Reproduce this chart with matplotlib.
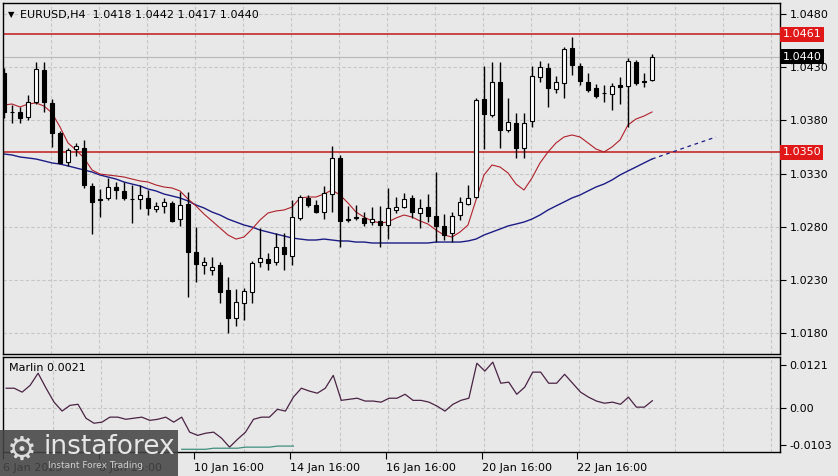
import matplotlib.pyplot as plt
import numpy as np
from matplotlib.transforms import blended_transform_factory
from matplotlib.patches import Rectangle

# EURUSD H4 candles
opens = [1.04246, 1.03879, 1.03880, 1.03832, 1.03973, 1.04274, 1.03964, 1.03682, 1.03409, 1.03531,
         1.03541, 1.03184, 1.03061, 1.03071, 1.03174, 1.03137, 1.03061, 1.03061, 1.03071, 1.02967,
         1.02996, 1.03024, 1.02873, 1.03014, 1.02563, 1.02441, 1.02394, 1.02441, 1.02206, 1.01943,
         1.02084, 1.02187, 1.02469, 1.02497, 1.02469, 1.02610, 1.02526, 1.02883, 1.03071, 1.03005,
         1.02939, 1.03108, 1.03447, 1.02873, 1.02892, 1.02883, 1.02845, 1.02855, 1.02817, 1.02958,
         1.02986, 1.03071, 1.02930, 1.02986, 1.02902, 1.02808, 1.02742, 1.02911, 1.03014, 1.03080,
         1.04001, 1.03851, 1.04161, 1.03710, 1.03776, 1.03541, 1.03794, 1.04208, 1.04293, 1.04095,
         1.04152, 1.04480, 1.04311, 1.04161, 1.04105, 1.04058, 1.04048, 1.04133, 1.04123, 1.04349,
         1.04170, 1.04180]
highs = [1.04293, 1.03945, 1.03926, 1.04039, 1.04349, 1.04349, 1.04001, 1.03700, 1.03541, 1.03588,
         1.03616, 1.03212, 1.03155, 1.03259, 1.03221, 1.03221, 1.03193, 1.03193, 1.03146, 1.03033,
         1.03071, 1.03043, 1.03127, 1.03127, 1.02798, 1.02516, 1.02516, 1.02469, 1.02328, 1.02216,
         1.02225, 1.02479, 1.02789, 1.02554, 1.02742, 1.02742, 1.03052, 1.03099, 1.03099, 1.03052,
         1.03184, 1.03560, 1.03475, 1.02996, 1.03005, 1.02939, 1.02986, 1.02996, 1.03165, 1.03080,
         1.03118, 1.03099, 1.03061, 1.03108, 1.03315, 1.02920, 1.02939, 1.03080, 1.03193, 1.04011,
         1.04311, 1.04349, 1.04349, 1.04011, 1.03870, 1.03870, 1.04311, 1.04358, 1.04340, 1.04217,
         1.04490, 1.04584, 1.04340, 1.04246, 1.04142, 1.04133, 1.04152, 1.04208, 1.04387, 1.04368,
         1.04246, 1.04420]
lows = [1.03823, 1.03776, 1.03776, 1.03804, 1.03954, 1.03879, 1.03550, 1.03390, 1.03372, 1.03466,
        1.03165, 1.02732, 1.02892, 1.03052, 1.03061, 1.03052, 1.02836, 1.02967, 1.02911, 1.02939,
        1.02930, 1.02845, 1.02808, 1.02140, 1.02281, 1.02357, 1.02347, 1.02084, 1.01802, 1.01868,
        1.01924, 1.02084, 1.02422, 1.02394, 1.02441, 1.02394, 1.02441, 1.02864, 1.02986, 1.02930,
        1.02873, 1.02939, 1.02610, 1.02845, 1.02864, 1.02808, 1.02817, 1.02610, 1.02685, 1.02930,
        1.02977, 1.02883, 1.02789, 1.02845, 1.02657, 1.02676, 1.02657, 1.02864, 1.03005, 1.03071,
        1.03531, 1.03832, 1.03541, 1.03691, 1.03447, 1.03447, 1.03738, 1.04161, 1.03926, 1.04058,
        1.04011, 1.04227, 1.04133, 1.04067, 1.04011, 1.03973, 1.03898, 1.03954, 1.03738, 1.04133,
        1.04114, 1.04170]
closes = [1.03879, 1.03880, 1.03823, 1.03973, 1.04283, 1.03973, 1.03682, 1.03400, 1.03522, 1.03560,
          1.03193, 1.03033, 1.03052, 1.03174, 1.03146, 1.03071, 1.03058, 1.03099, 1.02977, 1.02996,
          1.03033, 1.02855, 1.03005, 1.02563, 1.02451, 1.02469, 1.02422, 1.02187, 1.01943, 1.02093,
          1.02197, 1.02460, 1.02507, 1.02460, 1.02610, 1.02544, 1.02892, 1.03080, 1.03005, 1.02939,
          1.03118, 1.03447, 1.02855, 1.02864, 1.02883, 1.02836, 1.02873, 1.02817, 1.02977, 1.02986,
          1.03061, 1.02939, 1.02977, 1.02902, 1.02808, 1.02723, 1.02902, 1.03033, 1.03071, 1.03992,
          1.03860, 1.04161, 1.03710, 1.03785, 1.03541, 1.03776, 1.04217, 1.04302, 1.04105, 1.04161,
          1.04471, 1.04321, 1.04170, 1.04086, 1.04029, 1.04054, 1.04123, 1.04114, 1.04358, 1.04152,
          1.04161, 1.04400]

ma_fast = [1.03945, 1.03954, 1.03926, 1.03954, 1.03964, 1.03935, 1.03870, 1.03738, 1.03588, 1.03522,
           1.03447, 1.03334, 1.03296, 1.03287, 1.03278, 1.03268, 1.03249, 1.03231, 1.03221, 1.03193,
           1.03174, 1.03165, 1.03137, 1.03061, 1.02996, 1.02920, 1.02855, 1.02789, 1.02723, 1.02685,
           1.02704, 1.02779, 1.02864, 1.02930, 1.02949, 1.02958, 1.02986, 1.03071, 1.03080, 1.03080,
           1.03108, 1.03146, 1.03099, 1.03024, 1.02939, 1.02892, 1.02855, 1.02836, 1.02845, 1.02883,
           1.02911, 1.02892, 1.02855, 1.02826, 1.02770, 1.02723, 1.02704, 1.02751, 1.02817, 1.03052,
           1.03287, 1.03381, 1.03362, 1.03306, 1.03202, 1.03146, 1.03259, 1.03400, 1.03503, 1.03588,
           1.03644, 1.03663, 1.03644, 1.03588, 1.03531, 1.03503, 1.03550, 1.03616, 1.03757, 1.03813,
           1.03841, 1.03879]
ma_slow = [1.03484, 1.03475, 1.03456, 1.03447, 1.03437, 1.03419, 1.03400, 1.03390, 1.03372, 1.03353,
           1.03334, 1.03315, 1.03287, 1.03268, 1.03249, 1.03221, 1.03202, 1.03184, 1.03155, 1.03137,
           1.03108, 1.03090, 1.03071, 1.03043, 1.03005, 1.02977, 1.02939, 1.02911, 1.02873, 1.02845,
           1.02817, 1.02798, 1.02770, 1.02751, 1.02732, 1.02714, 1.02695, 1.02685, 1.02676, 1.02676,
           1.02685, 1.02676, 1.02667, 1.02667, 1.02657, 1.02657, 1.02648, 1.02648, 1.02648, 1.02648,
           1.02648, 1.02648, 1.02648, 1.02648, 1.02657, 1.02657, 1.02657, 1.02657, 1.02667, 1.02685,
           1.02723, 1.02751, 1.02779, 1.02808, 1.02826, 1.02845, 1.02873, 1.02911, 1.02958, 1.02996,
           1.03033, 1.03071, 1.03099, 1.03137, 1.03174, 1.03202, 1.03240, 1.03287, 1.03325, 1.03362,
           1.03400, 1.03437]
ext_idx = [81, 85, 89]
ma_slow_ext = [1.03437, 1.03541, 1.03644]

marlin = [0.0056, 0.0056, 0.0045, 0.0064, 0.0098, 0.0056, 0.0017, -0.0008, 0.0008, 0.0011,
          -0.0028, -0.0042, -0.0039, -0.0025, -0.0025, -0.0031, -0.0028, -0.0025, -0.0034, -0.0031,
          -0.0025, -0.0039, -0.0025, -0.0067, -0.0076, -0.0070, -0.0067, -0.0084, -0.0109, -0.0087,
          -0.0067, -0.0031, -0.0025, -0.0025, -0.0003, -0.0008, 0.0031, 0.0056, 0.0048, 0.0042,
          0.0056, 0.0092, 0.0022, 0.0025, 0.0028, 0.0020, 0.0020, 0.0017, 0.0028, 0.0028,
          0.0039, 0.0022, 0.0022, 0.0017, 0.0006, -0.0008, 0.0011, 0.0022, 0.0028, 0.0126,
          0.0104, 0.0129, 0.0070, 0.0073, 0.0039, 0.0059, 0.0101, 0.0101, 0.0070, 0.0070,
          0.0095, 0.0070, 0.0045, 0.0031, 0.0020, 0.0014, 0.0017, 0.0011, 0.0031, 0.0003,
          0.0003, 0.0021]
signal_idx = [22, 23, 24, 25, 26, 27, 28, 29, 30, 31, 32, 33, 34, 35, 36]
signal = [-0.0115, -0.0115, -0.0115, -0.0115, -0.0112, -0.0112, -0.0112, -0.0112,
          -0.0109, -0.0109, -0.0109, -0.0109, -0.0106, -0.0106, -0.0106]

levels = [1.0461, 1.0350]
last_price = 1.0440
price_ticks = [1.0480, 1.0430, 1.0380, 1.0330, 1.0280, 1.0230, 1.0180]
ind_ticks = [0.0121, 0.0, -0.0103]
ind_labels = ['0.0121', '0.00', '-0.0103']
time_idx = [0, 12, 24, 36, 48, 60, 72]
time_labels = ['6 Jan 2025', '8 Jan 16:00', '10 Jan 16:00', '14 Jan 16:00',
               '16 Jan 16:00', '20 Jan 16:00', '22 Jan 16:00']

bg = '#e8e8e8'
W, H = 838, 476
fig = plt.figure(figsize=(W / 100, H / 100), dpi=100, facecolor=bg)
plt.rcParams['font.family'] = ['DejaVu Sans']

ax = fig.add_axes([3 / W, 1 - 354 / H, 777 / W, 351 / H], facecolor=bg)
ax2 = fig.add_axes([3 / W, 1 - 452 / H, 777 / W, 95 / H], facecolor=bg)

xmin, xmax = -0.125, 97
for a in (ax, ax2):
    a.set_xlim(xmin, xmax)
    for s in a.spines.values():
        s.set_color('black')
        s.set_linewidth(1)
    for k in range(1, 17):
        a.axvline(6 * k - 0.15, color='#c6c6c6', lw=0.8, ls=(0, (3, 2)), zorder=0)

ax.set_ylim(1.01605, 1.04903)
for p in price_ticks:
    ax.axhline(p, color='#c6c6c6', lw=0.8, ls=(0, (3, 2)), zorder=0)

# levels and bid line
for lv in levels:
    ax.axhline(lv, color='#c21b1b', lw=1.1, zorder=2)
ax.axhline(last_price, color='#b8b8b8', lw=0.8, zorder=1)

# moving averages
x = np.arange(len(opens))
ax.plot(x, ma_slow, color='#1c1c86', lw=1.0, zorder=2)
ax.plot(ext_idx, ma_slow_ext, color='#1c1c86', lw=0.9, ls=(0, (3, 3)), zorder=2)
ax.plot(x, ma_fast, color='#b0202a', lw=0.8, zorder=2)

# candles
o = np.array(opens)
c = np.array(closes)
up = c >= o
lo = np.minimum(o, c)
hgt = np.maximum(np.abs(c - o), 0.00003)
ax.vlines(x, lows, highs, color='black', lw=1, zorder=3)
ax.bar(x[up], hgt[up], bottom=lo[up], width=0.6, color='white', edgecolor='black', lw=0.8, zorder=4)
ax.bar(x[~up], hgt[~up], bottom=lo[~up], width=0.6, color='black', edgecolor='black', lw=0.8, zorder=4)

ax.yaxis.tick_right()
ax.set_yticks(price_ticks)
ax.set_yticklabels([f'{p:.4f}' for p in price_ticks])
ax.tick_params(axis='y', length=4, width=0.8, labelsize=8, pad=3, colors='black')
ax.set_xticks([])

tr = blended_transform_factory(ax.transAxes, ax.transData)
for lv, fc in [(levels[0], '#e01818'), (last_price, '#000000'), (levels[1], '#e01818')]:
    ax.text(1.003, lv, f'{lv:.4f}', transform=tr, color='white', fontsize=8, va='center', ha='left',
            bbox=dict(boxstyle='square,pad=0.22', fc=fc, ec='none'), clip_on=False, zorder=10)

# indicator panel
ax2.set_ylim(-0.01226, 0.01434)
ax2.axhline(0, color='#c6c6c6', lw=0.8, ls=(0, (3, 2)), zorder=0)
ax2.plot(x, marlin, color='#4a2244', lw=0.9, zorder=3)
ax2.plot(signal_idx, signal, color='#3f8f7f', lw=0.9, zorder=3)
ax2.yaxis.tick_right()
ax2.set_yticks(ind_ticks)
ax2.set_yticklabels(ind_labels)
ax2.tick_params(axis='y', length=4, width=0.8, labelsize=8, pad=3, colors='black')
ax2.set_xticks([i - 0.4 for i in time_idx])
ax2.set_xticklabels(time_labels)
ax2.tick_params(axis='x', length=5, width=0.8, labelsize=8, pad=3, colors='black')
for lab in ax2.get_xticklabels():
    lab.set_ha('left')
ax2.text(0.008, 0.88, 'Marlin 0.0021', transform=ax2.transAxes, fontsize=8, va='center', ha='left')

fig.text(8 / W, 1 - 15 / H, '\u25bc', fontsize=6, va='center', ha='left')
fig.text(20 / W, 1 - 15 / H, 'EURUSD,H4  1.0418 1.0442 1.0417 1.0440', fontsize=8, va='center', ha='left')

# watermark
fig.patches.append(Rectangle((0, 0), 178 / W, 46 / H, transform=fig.transFigure,
                             fc='#454545', ec='none', alpha=0.88, zorder=20))
fig.text(22 / W, 1 - 450 / H, '\u2699', fontsize=24, color='#dddddd', va='center', ha='center', zorder=21)
fig.text(43 / W, 1 - 447 / H, 'instaforex', fontsize=19, color='#e6e6e6', va='center', ha='left', zorder=21)
fig.text(48 / W, 1 - 466 / H, 'Instant Forex Trading', fontsize=6.5, color='#d0d0d0', va='center', ha='left', zorder=21)

fig.savefig('out.png', dpi=100, facecolor=bg)
